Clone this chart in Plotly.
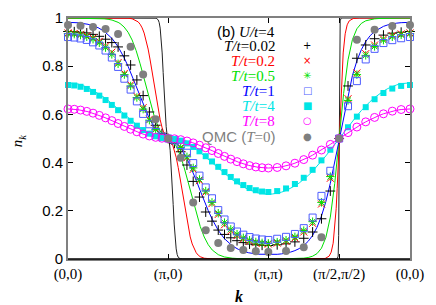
import plotly.graph_objects as go

# ---- k-path coordinates (path length in units of pi) ----
S_TICKS = [0, 1, 2, 2.70711, 3.41421]
TICK_TEXT = ["(0,0)", "(π,0)", "(π,π)", "(π/2,π/2)", "(0,0)"]

# L=32 grid (markers)
s32 = [0, 0.0625, 0.125, 0.1875, 0.25, 0.3125, 0.375, 0.4375, 0.5, 0.5625, 0.625, 0.6875, 0.75, 0.8125, 0.875, 0.9375, 1.0,
       1.0625, 1.125, 1.1875, 1.25, 1.3125, 1.375, 1.4375, 1.5, 1.5625, 1.625, 1.6875, 1.75, 1.8125, 1.875, 1.9375, 2.0,
       2.08839, 2.17678, 2.26517, 2.35355, 2.44194, 2.53033, 2.61872, 2.70711,
       2.79550, 2.88388, 2.97227, 3.06066, 3.14905, 3.23744, 3.32583, 3.41421]
# L=16 grid (QMC)
s16 = [0, 0.125, 0.25, 0.375, 0.5, 0.625, 0.75, 0.875, 1.0,
       1.125, 1.25, 1.375, 1.5, 1.625, 1.75, 1.875, 2.0,
       2.17678, 2.35355, 2.53033, 2.70711, 2.88388, 3.06066, 3.23744, 3.41421]

# ---- marker series n_k (U/t=4) ----
n_T002 = [0.944, 0.943, 0.941, 0.938, 0.932, 0.924, 0.912, 0.898, 0.880, 0.843, 0.805, 0.743, 0.678, 0.610, 0.555, 0.520, 0.500,
          0.480, 0.445, 0.390, 0.322, 0.257, 0.195, 0.157, 0.120, 0.102, 0.088, 0.076, 0.068, 0.062, 0.059, 0.057, 0.056,
          0.059, 0.063, 0.071, 0.086, 0.112, 0.167, 0.282, 0.500,
          0.718, 0.833, 0.888, 0.914, 0.929, 0.937, 0.941, 0.944]
n_T02 = [0.938, 0.936, 0.932, 0.926, 0.917, 0.903, 0.884, 0.858, 0.815, 0.770, 0.723, 0.675, 0.628, 0.580, 0.540, 0.513, 0.500,
         0.487, 0.460, 0.420, 0.372, 0.325, 0.277, 0.230, 0.185, 0.142, 0.116, 0.097, 0.083, 0.074, 0.068, 0.064, 0.062,
         0.066, 0.073, 0.087, 0.112, 0.148, 0.228, 0.335, 0.500,
         0.665, 0.772, 0.852, 0.888, 0.913, 0.927, 0.934, 0.938]
n_T05 = [0.935, 0.933, 0.929, 0.922, 0.912, 0.897, 0.877, 0.849, 0.810, 0.765, 0.718, 0.670, 0.622, 0.576, 0.537, 0.511, 0.500,
         0.489, 0.463, 0.424, 0.378, 0.330, 0.282, 0.235, 0.190, 0.151, 0.123, 0.103, 0.088, 0.078, 0.071, 0.067, 0.065,
         0.070, 0.078, 0.092, 0.118, 0.155, 0.235, 0.342, 0.500,
         0.658, 0.765, 0.845, 0.882, 0.908, 0.922, 0.930, 0.935]
n_T1 = [0.921, 0.919, 0.915, 0.909, 0.899, 0.886, 0.865, 0.836, 0.797, 0.748, 0.703, 0.654, 0.602, 0.559, 0.527, 0.508, 0.500,
        0.492, 0.473, 0.441, 0.398, 0.346, 0.297, 0.252, 0.203, 0.164, 0.135, 0.114, 0.101, 0.091, 0.085, 0.081, 0.079,
        0.084, 0.092, 0.104, 0.128, 0.172, 0.262, 0.366, 0.500,
        0.634, 0.738, 0.828, 0.872, 0.896, 0.908, 0.916, 0.921]
n_T4 = [0.7219, 0.7200, 0.7146, 0.7056, 0.6932, 0.6778, 0.6596, 0.6393, 0.6176, 0.5953, 0.5735, 0.5531, 0.5351, 0.5203, 0.5091, 0.5023, 0.5,
        0.4977, 0.4909, 0.4797, 0.4649, 0.4469, 0.4265, 0.4047, 0.3824, 0.3607, 0.3404, 0.3222, 0.3068, 0.2944, 0.2854, 0.2800, 0.2781,
        0.2818, 0.2928, 0.3112, 0.3370, 0.3700, 0.4093, 0.4533, 0.5,
        0.5467, 0.5907, 0.6300, 0.6630, 0.6888, 0.7072, 0.7182, 0.7219]
n_T8 = [0.6225, 0.6213, 0.6180, 0.6125, 0.6051, 0.5960, 0.5856, 0.5742, 0.5622, 0.5501, 0.5385, 0.5278, 0.5183, 0.5105, 0.5048, 0.5012, 0.5,
        0.4988, 0.4952, 0.4895, 0.4817, 0.4722, 0.4615, 0.4499, 0.4378, 0.4258, 0.4144, 0.4040, 0.3949, 0.3875, 0.3820, 0.3787, 0.3775,
        0.3798, 0.3865, 0.3975, 0.4125, 0.4310, 0.4523, 0.4756, 0.5,
        0.5244, 0.5477, 0.5690, 0.5875, 0.6025, 0.6135, 0.6202, 0.6225]
n_QMC = [0.971, 0.968, 0.963, 0.954, 0.934, 0.881, 0.766, 0.580, 0.500,
         0.420, 0.234, 0.119, 0.066, 0.046, 0.037, 0.032, 0.029,
         0.033, 0.049, 0.090, 0.500, 0.910, 0.951, 0.967, 0.971]

# ---- free-fermion curves (lines) ----
s_T002 = [0, 0.86, 0.88, 0.90, 0.91, 0.92, 0.93, 0.94, 0.95, 0.96, 0.97, 0.98, 0.99, 1.0,
          1.01, 1.02, 1.03, 1.04, 1.05, 1.06, 1.07, 1.08, 1.09, 1.10, 1.12, 1.14,
          2.68711, 2.69711, 2.70211, 2.70461, 2.70711, 2.70961, 2.71211, 2.71711, 2.72711, 3.41421]
l_T002 = [1.0, 0.9999, 0.9991, 0.9926, 0.9815, 0.958, 0.9175, 0.855, 0.774, 0.688, 0.609, 0.549, 0.512, 0.5,
          0.488, 0.451, 0.391, 0.312, 0.226, 0.145, 0.0825, 0.042, 0.0185, 0.0074, 0.0009, 0.0001,
          0.0001, 0.012, 0.098, 0.248, 0.5, 0.752, 0.902, 0.988, 0.9999, 1.0]

s_T02 = [0, 0.5, 0.56, 0.60, 0.64, 0.68, 0.70, 0.72, 0.74, 0.76, 0.78, 0.80, 0.82, 0.84, 0.86, 0.88, 0.90, 0.92, 0.94, 0.96, 0.98, 1.0,
         1.02, 1.04, 1.06, 1.08, 1.10, 1.12, 1.14, 1.16, 1.18, 1.20, 1.22, 1.24, 1.26, 1.28, 1.30, 1.32, 1.36, 1.40, 1.44, 1.5,
         2.50711, 2.56711, 2.60711, 2.62711, 2.64711, 2.66711, 2.67711, 2.68711, 2.69711, 2.70711,
         2.71711, 2.72711, 2.73711, 2.74711, 2.76711, 2.78711, 2.80711, 2.84711, 2.90711, 3.41421]
l_T02 = [1.0, 0.99995, 0.9997, 0.9990, 0.9968, 0.9905, 0.9841, 0.9741, 0.9591, 0.9376, 0.9084, 0.8710, 0.8259, 0.7750, 0.7214, 0.6687, 0.6200, 0.5779, 0.5442, 0.5197, 0.5049, 0.5,
         0.4951, 0.4803, 0.4558, 0.4221, 0.3800, 0.3313, 0.2786, 0.2250, 0.1741, 0.1290, 0.0916, 0.0624, 0.0409, 0.0259, 0.0159, 0.0095, 0.0032, 0.0010, 0.0003, 0.00005,
         0.0002, 0.0022, 0.0120, 0.0283, 0.0655, 0.1450, 0.2089, 0.2915, 0.3907, 0.5,
         0.6093, 0.7085, 0.7911, 0.8550, 0.9345, 0.9717, 0.9880, 0.9978, 0.9998, 1.0]

s_line = [0, 0.1, 0.2, 0.3, 0.36, 0.4, 0.44, 0.5, 0.52, 0.56, 0.60, 0.64, 0.68, 0.72, 0.76, 0.80, 0.84, 0.86, 0.88, 0.90, 0.92, 0.94, 0.96, 0.98, 1.0,
          1.02, 1.04, 1.06, 1.08, 1.10, 1.12, 1.14, 1.16, 1.20, 1.24, 1.28, 1.32, 1.36, 1.40, 1.44, 1.48, 1.50, 1.56, 1.60, 1.64, 1.70, 1.80, 1.90, 2.0,
          2.04419, 2.08839, 2.13258, 2.17678, 2.22097, 2.26517, 2.30936, 2.35355, 2.39775, 2.44194, 2.48614, 2.53033, 2.57453, 2.61872, 2.66292, 2.70711,
          2.75130, 2.79550, 2.83969, 2.88388, 2.92808, 2.97227, 3.01647, 3.06066, 3.10485, 3.14905, 3.19324, 3.23744, 3.28163, 3.32583, 3.37002, 3.41421]
l_T05 = [0.99966, 0.99959, 0.99928, 0.99826, 0.99668, 0.99471, 0.99142, 0.9820, 0.9770, 0.9627, 0.9407, 0.9087, 0.8649, 0.8101, 0.7473, 0.6822, 0.6212, 0.5940, 0.5698, 0.5488, 0.5314, 0.5177, 0.5079, 0.5020, 0.5,
         0.4980, 0.4921, 0.4823, 0.4686, 0.4512, 0.4302, 0.4060, 0.3788, 0.3178, 0.2527, 0.1899, 0.1351, 0.0913, 0.0593, 0.0373, 0.0230, 0.0180, 0.00858, 0.00529, 0.00332, 0.00174, 0.00072, 0.00041, 0.00034,
         0.00035, 0.00039, 0.0005, 0.0006, 0.0009, 0.0013, 0.0021, 0.0035, 0.0062, 0.0116, 0.0225, 0.0447, 0.0893, 0.1736, 0.3134, 0.5,
         0.6866, 0.8264, 0.9107, 0.9553, 0.9775, 0.9884, 0.9938, 0.9965, 0.9979, 0.9987, 0.9991, 0.9994, 0.9995, 0.9996, 0.99965, 0.99966]
l_T1 = [0.9820, 0.9802, 0.9739, 0.9599, 0.9454, 0.9320, 0.9149, 0.8808, 0.8669, 0.8355, 0.7993, 0.7592, 0.7167, 0.6738, 0.6323, 0.5943, 0.5615, 0.5474, 0.5350, 0.5245, 0.5157, 0.5089, 0.5039, 0.5010, 0.5,
        0.4990, 0.4961, 0.4911, 0.4843, 0.4755, 0.4650, 0.4526, 0.4385, 0.4057, 0.3677, 0.3262, 0.2833, 0.2408, 0.2007, 0.1645, 0.1331, 0.1192, 0.0851, 0.0680, 0.0546, 0.0401, 0.0261, 0.0198, 0.0180,
        0.0183, 0.0194, 0.0213, 0.0242, 0.0285, 0.0347, 0.0434, 0.0558, 0.0733, 0.0978, 0.1317, 0.1779, 0.2385, 0.3142, 0.4032, 0.5,
        0.5968, 0.6858, 0.7615, 0.8221, 0.8683, 0.9022, 0.9267, 0.9442, 0.9566, 0.9653, 0.9715, 0.9758, 0.9787, 0.9806, 0.9817, 0.9820]
l_T4 = [0.7311, 0.7262, 0.7118, 0.6886, 0.6711, 0.6580, 0.6442, 0.6225, 0.6151, 0.6002, 0.5855, 0.5713, 0.5578, 0.5452, 0.5338, 0.5239, 0.5155, 0.5119, 0.5088, 0.5061, 0.5039, 0.5022, 0.5010, 0.5002, 0.5,
        0.4998, 0.4990, 0.4978, 0.4961, 0.4939, 0.4912, 0.4881, 0.4845, 0.4761, 0.4662, 0.4548, 0.4422, 0.4287, 0.4145, 0.3998, 0.3849, 0.3775, 0.3558, 0.3420, 0.3289, 0.3114, 0.2882, 0.2738, 0.2689,
        0.2699, 0.2727, 0.2775, 0.2842, 0.2928, 0.3033, 0.3158, 0.3302, 0.3465, 0.3646, 0.3843, 0.4055, 0.4279, 0.4514, 0.4755, 0.5,
        0.5245, 0.5486, 0.5721, 0.5945, 0.6157, 0.6354, 0.6535, 0.6698, 0.6842, 0.6967, 0.7072, 0.7158, 0.7225, 0.7273, 0.7301, 0.7311]
l_T8 = [0.6225, 0.6196, 0.6112, 0.5980, 0.5882, 0.5811, 0.5737, 0.5622, 0.5583, 0.5506, 0.5431, 0.5358, 0.5290, 0.5227, 0.5169, 0.5119, 0.5077, 0.5059, 0.5044, 0.5031, 0.5020, 0.5011, 0.5005, 0.5001, 0.5,
        0.4999, 0.4995, 0.4989, 0.4980, 0.4969, 0.4956, 0.4941, 0.4923, 0.4881, 0.4831, 0.4773, 0.4710, 0.4642, 0.4569, 0.4494, 0.4417, 0.4378, 0.4263, 0.4189, 0.4118, 0.4020, 0.3888, 0.3804, 0.3775,
        0.3781, 0.3798, 0.3826, 0.3865, 0.3915, 0.3975, 0.4046, 0.4125, 0.4214, 0.4310, 0.4413, 0.4523, 0.4638, 0.4756, 0.4877, 0.5,
        0.5123, 0.5244, 0.5362, 0.5477, 0.5587, 0.5690, 0.5786, 0.5875, 0.5954, 0.6025, 0.6085, 0.6135, 0.6174, 0.6202, 0.6219, 0.6225]

BLACK, RED, GREEN, BLUE, CYAN, MAGENTA, GREY = "#000000", "#ff0000", "#00e000", "#0000ff", "#00e5e5", "#ff00ff", "#7f7f7f"
SQBLUE = "#4d5cff"

fig = go.Figure()

for xs, ys, col in [(s_T002, l_T002, "#222222"), (s_T02, l_T02, RED), (s_line, l_T05, GREEN),
                    (s_line, l_T1, BLUE), (s_line, l_T4, CYAN), (s_line, l_T8, MAGENTA)]:
    fig.add_trace(go.Scatter(x=xs, y=ys, mode="lines", line=dict(color=col, width=1), showlegend=False,
                             hoverinfo="skip", cliponaxis=True))

markers = [
    (s32, n_T002, "cross-thin-open", BLACK, 7, 1),
    (s32, n_T02, "x-thin-open", RED, 7, 1),
    (s32, n_T05, "asterisk-open", GREEN, 7, 1),
    (s32, n_T1, "square-open", SQBLUE, 7, 1),
    (s32, n_T4, "square", CYAN, 6, 0),
    (s32, n_T8, "circle-open", MAGENTA, 8, 1),
    (s16, n_QMC, "circle", GREY, 8, 0),
]
for xs, ys, sym, col, size, lw in markers:
    fig.add_trace(go.Scatter(x=xs, y=ys, mode="markers", showlegend=False, hoverinfo="skip", cliponaxis=False,
                             marker=dict(symbol=sym, color=col, size=size, line=dict(color=col, width=lw))))

SERIF = "Liberation Serif"
SANS = "Liberation Sans"

# legend built from text
legend_rows = [
    ("<span style='font-family:Liberation Sans'>(b)</span> <i>U/t</i>=4", BLACK, "", BLACK, 0.943),
    ("<i>T/t</i>=0.02", BLACK, "+", BLACK, 0.885),
    ("<i>T/t</i>=0.2", RED, "×", RED, 0.823),
    ("<i>T/t</i>=0.5", GREEN, "✳", GREEN, 0.761),
    ("<i>T/t</i>=1", BLUE, "□", SQBLUE, 0.698),
    ("<i>T/t</i>=4", CYAN, "■", CYAN, 0.635),
    ("<i>T/t</i>=8", MAGENTA, "○", MAGENTA, 0.574),
    ("<span style='font-family:Liberation Sans'>QMC (</span><i>T</i>=0<span style='font-family:Liberation Sans'>)</span>", GREY, "●", GREY, 0.510),
]
for txt, col, sym, scol, yp in legend_rows:
    fig.add_annotation(x=0.611, y=yp, xref="paper", yref="paper", text=txt, showarrow=False,
                       xanchor="right", yanchor="middle", font=dict(family=SERIF, size=15, color=col))
    if sym:
        fig.add_annotation(x=0.699, y=yp, xref="paper", yref="paper", text=sym, showarrow=False,
                           xanchor="center", yanchor="middle", font=dict(family="DejaVu Sans", size=10, color=scol))

fig.add_annotation(x=0.5, y=-0.155, xref="paper", yref="paper", text="<b><i>k</i></b>", showarrow=False,
                   xanchor="center", yanchor="middle", font=dict(family=SERIF, size=16, color=BLACK))
fig.add_annotation(x=-0.145, y=0.49, xref="paper", yref="paper", text="<i>n</i><sub><i>k</i></sub>", showarrow=False,
                   textangle=-90, xanchor="center", yanchor="middle", font=dict(family=SERIF, size=15, color=BLACK))

fig.add_shape(type="line", xref="paper", yref="paper", x0=0, x1=1, y0=0, y1=0, line=dict(color=BLACK, width=1.5))

fig.update_xaxes(range=[0, 3.41421], tickvals=S_TICKS, ticktext=TICK_TEXT, ticks="inside", ticklen=5,
                 tickcolor=BLACK, tickwidth=1, showline=True, linecolor="#808080", linewidth=2, mirror="ticks",
                 showgrid=False, zeroline=False, automargin=False, tickfont=dict(family=SERIF, size=15, color=BLACK))
fig.update_yaxes(range=[0, 1], tickvals=[0, 0.2, 0.4, 0.6, 0.8, 1], ticktext=["0", "0.2", "0.4", "0.6", "0.8", "1"],
                 ticks="inside", ticklen=5, tickcolor=BLACK, tickwidth=1, showline=True, linecolor="#808080",
                 linewidth=2, mirror="ticks", showgrid=False, zeroline=False, automargin=False,
                 tickfont=dict(family=SANS, size=15, color=BLACK))

fig.update_layout(width=436, height=305, margin=dict(l=68, r=26, t=18, b=46, autoexpand=False),
                  paper_bgcolor="white", plot_bgcolor="white")

fig.write_html("out.html", config={"displayModeBar": False, "staticPlot": True},
               post_script="document.body.style.margin='0';document.body.style.overflow='hidden';")
